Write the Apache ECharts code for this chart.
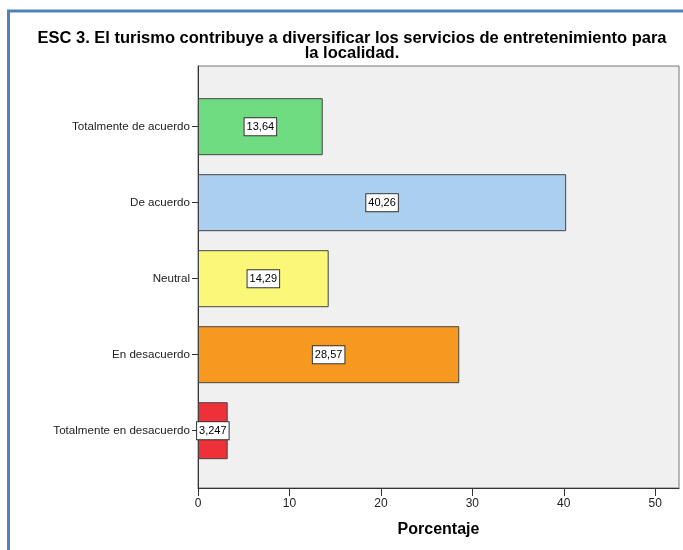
<!DOCTYPE html>
<html>
<head>
<meta charset="utf-8">
<script src="https://cdn.jsdelivr.net/npm/echarts@6/dist/echarts.min.js"></script>
<style>
html,body{margin:0;padding:0;background:#fff;}
#chart{width:683px;height:550px;}
</style>
</head>
<body>
<div id="chart"></div>
<script>
const categories = ['Totalmente de acuerdo', 'De acuerdo', 'Neutral', 'En desacuerdo', 'Totalmente en desacuerdo'];
const values = [13.64, 40.26, 14.29, 28.57, 3.247];
const barColors = ['#70dc82', '#abcfee', '#fbf879', '#f7991f', '#ee3039'];
const xTicks = [0, 10, 20, 30, 40, 50];
const titleText = 'ESC 3. El turismo contribuye a diversificar los servicios de entretenimiento para\nla localidad.';
const xName = 'Porcentaje';

const FONT = '"Liberation Sans", Arial, sans-serif';
const chart = echarts.init(document.getElementById('chart'), null, {renderer: 'canvas'});
const xMax = 52.6;

chart.setOption({
  animation: false,
  backgroundColor: '#fff',
  title: {
    text: titleText,
    left: 347,
    top: 26,
    textAlign: 'center',
    textStyle: {fontFamily: FONT, fontSize: 16.5, fontWeight: 'bold', color: '#000', lineHeight: 15}
  },
  graphic: [
    {type: 'line', shape: {x1: 8.5, y1: 11, x2: 8.5, y2: 550}, style: {stroke: '#4f81bd', lineWidth: 3}},
    {type: 'line', shape: {x1: 7, y1: 11, x2: 683, y2: 11}, style: {stroke: '#4f81bd', lineWidth: 3}}
  ],
  grid: [
    {left: 198, top: 66, width: 481, height: 422, show: true, backgroundColor: '#f0f0f0', borderColor: '#777', borderWidth: 1},
    {left: 198, top: 88.7, width: 481, height: 380}
  ],
  xAxis: [
    {
      gridIndex: 0, type: 'value', min: 0, max: xMax, interval: 10,
      name: xName, nameLocation: 'middle', nameGap: 34,
      nameTextStyle: {fontFamily: FONT, fontSize: 16, fontWeight: 'bold', color: '#000'},
      axisLine: {show: true, lineStyle: {color: '#333', width: 1}},
      axisTick: {show: true, length: 8, lineStyle: {color: '#333'}, customValues: xTicks},
      axisLabel: {
        fontFamily: FONT, fontSize: 12, color: '#222', margin: 10,
        customValues: xTicks
      },
      splitLine: {show: false}
    },
    {gridIndex: 1, type: 'value', min: 0, max: xMax, show: false}
  ],
  yAxis: [
    {gridIndex: 0, type: 'value', axisLine: {show: true, lineStyle: {color: '#333', width: 1}}, axisTick: {show: false}, axisLabel: {show: false}, splitLine: {show: false}},
    {
      gridIndex: 1, type: 'category', data: categories, inverse: true,
      axisLine: {show: false},
      axisTick: {show: true, alignWithLabel: true, length: 6, lineStyle: {color: '#333'}},
      axisLabel: {fontFamily: FONT, fontSize: 11.6, color: '#222', margin: 8}
    }
  ],
  series: [{
    type: 'bar',
    xAxisIndex: 1, yAxisIndex: 1,
    barWidth: 57,
    data: values.map((v, i) => ({value: v, itemStyle: {color: barColors[i]}})),
    itemStyle: {borderColor: '#444', borderWidth: 1},
    label: {
      show: true, position: 'inside',
      formatter: p => String(p.value).replace('.', ','),
      fontFamily: FONT, fontSize: 11, color: '#000',
      backgroundColor: '#fff', borderColor: '#333', borderWidth: 1,
      padding: [3, 2, 3, 2]
    }
  }]
});
</script>
</body>
</html>
